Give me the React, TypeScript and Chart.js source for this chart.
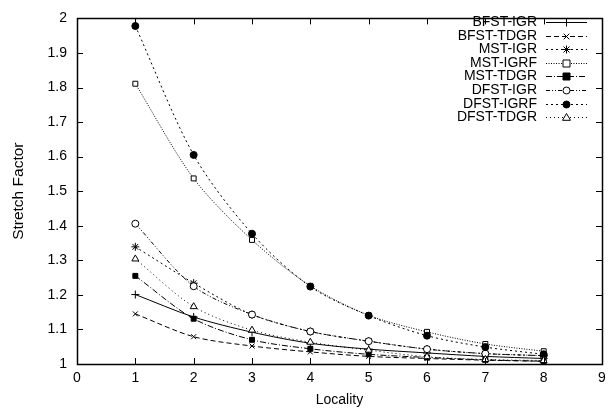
import React, { useEffect, useRef } from "react";
import { Chart, registerables } from "chart.js";

Chart.register(...registerables);

const localities = [1, 2, 3, 4, 5, 6, 7, 8];
const seriesNames = ["BFST-IGR", "BFST-TDGR", "MST-IGR", "MST-IGRF", "MST-TDGR", "DFST-IGR", "DFST-IGRF", "DFST-TDGR"];
const bfstIgr = [1.201, 1.136, 1.092, 1.06, 1.043, 1.032, 1.022, 1.016];
const bfstTdgr = [1.145, 1.079, 1.052, 1.035, 1.022, 1.016, 1.011, 1.008];
const mstIgr = [1.339, 1.234, 1.143, 1.094, 1.066, 1.043, 1.03, 1.024];
const mstIgrf = [1.811, 1.537, 1.359, 1.226, 1.141, 1.093, 1.058, 1.037];
const mstTdgr = [1.255, 1.131, 1.07, 1.044, 1.028, 1.019, 1.012, 1.008];
const dfstIgr = [1.406, 1.225, 1.143, 1.094, 1.066, 1.043, 1.03, 1.024];
const dfstIgrf = [1.978, 1.605, 1.377, 1.224, 1.14, 1.082, 1.049, 1.028];
const dfstTdgr = [1.304, 1.166, 1.098, 1.063, 1.04, 1.021, 1.013, 1.01];
const xTicks = [0, 1, 2, 3, 4, 5, 6, 7, 8, 9];
const yTicks = [1, 1.1, 1.2, 1.3, 1.4, 1.5, 1.6, 1.7, 1.8, 1.9, 2];

const FONT = "'Liberation Sans', Arial, sans-serif";

const styles = [
  { dash: [], point: "cross", fill: "#000", r: 4 },
  { dash: [5, 3], point: "crossRot", fill: "#000", r: 3.5 },
  { dash: [2, 3], point: "star", fill: "#000", r: 4 },
  { dash: [1, 1.5], point: "rect", fill: "#fff", r: 3.5 },
  { dash: [6, 2, 1, 2], point: "rect", fill: "#000", r: 3.5 },
  { dash: [4, 2, 1, 2, 1, 2], point: "circle", fill: "#fff", r: 3.5 },
  { dash: [2, 3], point: "circle", fill: "#000", r: 3.5 },
  { dash: [1, 3], point: "triangle", fill: "#fff", r: 4 },
];
const allData = [bfstIgr, bfstTdgr, mstIgr, mstIgrf, mstTdgr, dfstIgr, dfstIgrf, dfstTdgr];

function drawPointShape(ctx: any, style: string, r: number, x: number, y: number, fill: string) {
  ctx.save();
  ctx.lineWidth = 1;
  ctx.strokeStyle = "#000";
  ctx.fillStyle = fill;
  ctx.setLineDash([]);
  ctx.beginPath();
  if (style === "cross") {
    ctx.moveTo(x - r, y); ctx.lineTo(x + r, y); ctx.moveTo(x, y - r); ctx.lineTo(x, y + r);
    ctx.stroke();
  } else if (style === "crossRot") {
    const d = r * 0.8;
    ctx.moveTo(x - d, y - d); ctx.lineTo(x + d, y + d); ctx.moveTo(x - d, y + d); ctx.lineTo(x + d, y - d);
    ctx.stroke();
  } else if (style === "star") {
    const d = r * 0.75;
    ctx.moveTo(x - r, y); ctx.lineTo(x + r, y); ctx.moveTo(x, y - r); ctx.lineTo(x, y + r);
    ctx.moveTo(x - d, y - d); ctx.lineTo(x + d, y + d); ctx.moveTo(x - d, y + d); ctx.lineTo(x + d, y - d);
    ctx.stroke();
  } else if (style === "rect") {
    ctx.rect(x - r, y - r, 2 * r, 2 * r);
    ctx.fill(); ctx.stroke();
  } else if (style === "circle") {
    ctx.arc(x, y, r, 0, Math.PI * 2);
    ctx.fill(); ctx.stroke();
  } else if (style === "triangle") {
    ctx.moveTo(x, y - r); ctx.lineTo(x + r, y + r * 0.7); ctx.lineTo(x - r, y + r * 0.7); ctx.closePath();
    ctx.fill(); ctx.stroke();
  }
  ctx.restore();
}

const framePlugin = {
  id: "frame",
  afterDraw(chart: any) {
    const ctx = chart.ctx;
    const { left, right, top, bottom } = chart.chartArea;
    const xs = chart.scales.x;
    const ys = chart.scales.y;
    ctx.save();
    ctx.strokeStyle = "#000";
    ctx.lineWidth = 1;
    ctx.setLineDash([]);
    ctx.beginPath();
    for (const v of xTicks) {
      const px = Math.round(xs.getPixelForValue(v)) + 0.5;
      ctx.moveTo(px, bottom);
      ctx.lineTo(px, bottom - 6);
      ctx.moveTo(px, top);
      ctx.lineTo(px, top + 6);
    }
    for (const v of yTicks) {
      const py = Math.round(ys.getPixelForValue(v)) + 0.5;
      ctx.moveTo(left, py);
      ctx.lineTo(left + 6, py);
      ctx.moveTo(right, py);
      ctx.lineTo(right - 6, py);
    }
    ctx.stroke();
    ctx.lineWidth = 1.5;
    ctx.strokeRect(Math.round(left) + 0.5, Math.round(top) + 0.5, Math.round(right - left), Math.round(bottom - top));

    // legend
    ctx.font = "14px " + FONT;
    ctx.textAlign = "right";
    ctx.textBaseline = "middle";
    const textRight = 537;
    const lx0 = 546;
    const lx1 = 587;
    chart.data.datasets.forEach((ds: any, i: number) => {
      const y = Math.round(22 + i * 13.6) + 0.5;
      ctx.fillStyle = "#000";
      ctx.fillText(ds.label, textRight, y);
      ctx.lineWidth = 1;
      ctx.strokeStyle = "#000";
      ctx.setLineDash(ds.borderDash || []);
      ctx.beginPath();
      ctx.moveTo(lx0, y);
      ctx.lineTo(lx1, y);
      ctx.stroke();
      ctx.setLineDash([]);
      drawPointShape(ctx, ds.pointStyle, ds.pointRadius, (lx0 + lx1) / 2, y, ds.pointBackgroundColor);
    });
    ctx.restore();
  },
};

export default function App() {
  const ref = useRef<HTMLCanvasElement>(null);
  useEffect(() => {
    if (!ref.current) return;
    const datasets = seriesNames.map((name, i) => ({
      label: name,
      data: localities.map((x, j) => ({ x, y: allData[i][j] })),
      borderColor: "#000",
      borderWidth: 1,
      borderDash: styles[i].dash,
      pointStyle: styles[i].point,
      pointRadius: styles[i].r,
      pointBackgroundColor: styles[i].fill,
      pointBorderColor: "#000",
      pointBorderWidth: 1,
      tension: 0.3,
      fill: false,
      order: 10 - i,
    }));
    const chart = new Chart(ref.current, {
      type: "line",
      data: { datasets },
      plugins: [framePlugin],
      options: {
        animation: false,
        responsive: false,
        layout: { padding: { top: 9, right: 11, left: 0, bottom: 0 } },
        plugins: { legend: { display: false }, tooltip: { enabled: false } },
        scales: {
          x: {
            type: "linear",
            min: 0,
            max: 9,
            afterBuildTicks: (s: any) => { s.ticks = xTicks.map((v) => ({ value: v })); },
            afterFit: (s: any) => { s.height = 48; },
            grid: { display: false, drawTicks: false },
            border: { display: false },
            ticks: { color: "#000", font: { family: FONT, size: 14 }, padding: 6, callback: (v: any) => String(v) },
            title: { display: true, text: "Locality", color: "#000", font: { family: FONT, size: 14 }, padding: { top: 0, bottom: 3 } },
          },
          y: {
            type: "linear",
            min: 1,
            max: 2,
            afterBuildTicks: (s: any) => { s.ticks = yTicks.map((v) => ({ value: v })); },
            afterFit: (s: any) => { s.width = 77; },
            grid: { display: false, drawTicks: false },
            border: { display: false },
            ticks: { color: "#000", font: { family: FONT, size: 14 }, padding: 10, callback: (v: any) => String(Math.round(v * 10) / 10) },
            title: { display: true, text: "Stretch Factor", color: "#000", font: { family: FONT, size: 15.5 }, padding: { top: 9, bottom: 0 } },
          },
        },
      } as any,
    });
    return () => chart.destroy();
  }, []);
  return (
    <div style={{ position: "fixed", left: 0, top: 0, width: 613, height: 412, background: "#fff" }}>
      <canvas ref={ref} width={613} height={412} style={{ width: 613, height: 412 }} />
    </div>
  );
}
